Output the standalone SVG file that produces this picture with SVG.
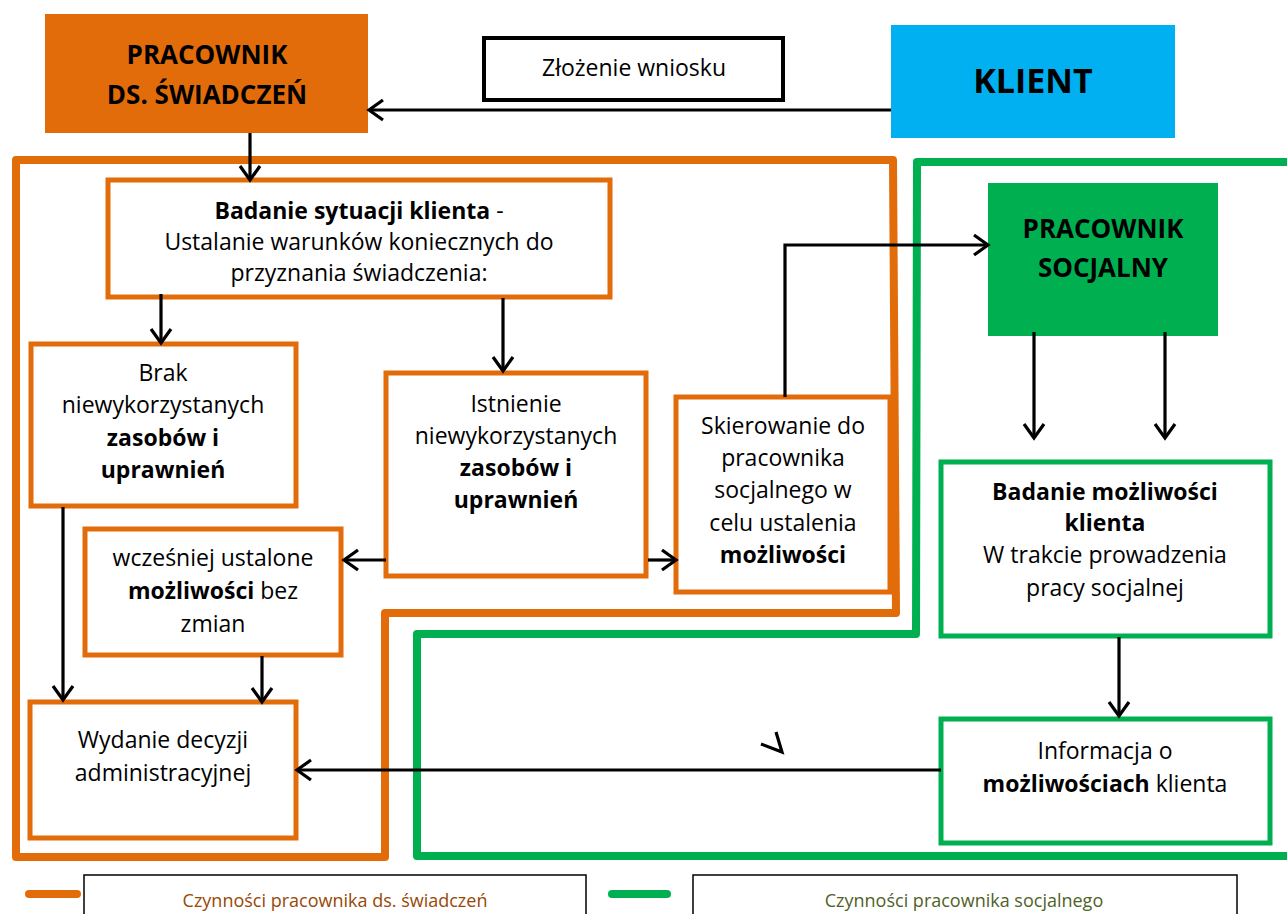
<svg xmlns="http://www.w3.org/2000/svg" width="1287" height="914" viewBox="0 0 1287 914">
<style>
.t{font-family:"Open Sans","Liberation Sans",sans-serif;font-size:23px;fill:#000;text-anchor:middle}
.b{font-weight:bold}
.h{font-size:26px}
.k{font-size:34px}
.z{font-size:23px}
.ob{fill:#fff;stroke:#E36C0A;stroke-width:5}
.gb{fill:#fff;stroke:#00B050;stroke-width:5}
.c{fill:none;stroke:#000;stroke-width:3.2}
.lg{font-family:"Open Sans","Liberation Sans",sans-serif;font-size:18px;text-anchor:middle}
</style>
<defs>
<marker id="a" markerWidth="20" markerHeight="24" refX="16" refY="12" orient="auto" markerUnits="userSpaceOnUse" viewBox="0 0 20 24" overflow="visible">
<path d="M2,2 L16,12 L2,22" fill="none" stroke="#000" stroke-width="3.2"/>
</marker>
</defs>
<rect width="1287" height="914" fill="#fff"/>
<g id="areas">
<path d="M16,857 L16,160 L893,160 L896,613 L385,613 L385,857 Z" fill="none" stroke="#E36C0A" stroke-width="8" stroke-linejoin="round"/>
<path d="M1290,162 L917,162 L916,634 L417,634 L417,856 L1290,856" fill="none" stroke="#00B050" stroke-width="8" stroke-linejoin="round"/>
</g>
<g id="pracownik-swiadczen">
<rect x="45" y="14" width="323" height="119" fill="#E36C0A"/>
<text class="t b h" x="207" y="64">PRACOWNIK</text>
<text class="t b h" x="207" y="104">DS. ŚWIADCZEŃ</text>
</g>
<g id="zlozenie">
<rect x="484" y="38" width="299" height="62" fill="#fff" stroke="#000" stroke-width="4"/>
<text class="t z" x="634" y="76">Złożenie wniosku</text>
</g>
<g id="klient">
<rect x="891" y="25" width="284" height="113" fill="#00B0F0"/>
<text class="t b k" x="1033" y="93">KLIENT</text>
</g>
<g id="badanie-sytuacji">
<rect class="ob" x="108" y="180" width="502" height="117"/>
<text class="t" x="359" y="219"><tspan class="b">Badanie sytuacji klienta</tspan> -</text>
<text class="t" x="359" y="250">Ustalanie warunków koniecznych do</text>
<text class="t" x="359" y="281">przyznania świadczenia:</text>
</g>
<g id="brak">
<rect class="ob" x="31" y="344" width="265" height="162"/>
<text class="t" x="163" y="381">Brak</text>
<text class="t" x="163" y="413">niewykorzystanych</text>
<text class="t b" x="163" y="446">zasobów i</text>
<text class="t b" x="163" y="478">uprawnień</text>
</g>
<g id="istnienie">
<rect class="ob" x="386" y="373" width="260" height="203"/>
<text class="t" x="516" y="412">Istnienie</text>
<text class="t" x="516" y="444">niewykorzystanych</text>
<text class="t b" x="516" y="476">zasobów i</text>
<text class="t b" x="516" y="508">uprawnień</text>
</g>
<g id="skierowanie">
<rect class="ob" x="676" y="397" width="214" height="195"/>
<text class="t" x="783" y="434">Skierowanie do</text>
<text class="t" x="783" y="466">pracownika</text>
<text class="t" x="783" y="498">socjalnego w</text>
<text class="t" x="783" y="531">celu ustalenia</text>
<text class="t b" x="783" y="563">możliwości</text>
</g>
<g id="wczesniej">
<rect class="ob" x="85" y="529" width="256" height="126"/>
<text class="t" x="213" y="566">wcześniej ustalone</text>
<text class="t" x="213" y="599"><tspan class="b">możliwości</tspan> bez</text>
<text class="t" x="213" y="632">zmian</text>
</g>
<g id="wydanie">
<rect class="ob" x="30" y="702" width="266" height="136"/>
<text class="t" x="163" y="748">Wydanie decyzji</text>
<text class="t" x="163" y="781">administracyjnej</text>
</g>
<g id="pracownik-socjalny">
<rect x="988" y="183" width="230" height="153" fill="#00B050"/>
<text class="t b h" x="1103" y="238">PRACOWNIK</text>
<text class="t b h" x="1103" y="277">SOCJALNY</text>
</g>
<g id="badanie-mozliwosci">
<rect class="gb" x="941" y="462" width="329" height="174"/>
<text class="t b" x="1105" y="500">Badanie możliwości</text>
<text class="t b" x="1105" y="531">klienta</text>
<text class="t" x="1105" y="563">W trakcie prowadzenia</text>
<text class="t" x="1105" y="596">pracy socjalnej</text>
</g>
<g id="informacja">
<rect class="gb" x="941" y="719" width="329" height="124"/>
<text class="t" x="1105" y="759">Informacja o</text>
<text class="t" x="1105" y="792"><tspan class="b">możliwościach</tspan> klienta</text>
</g>
<g id="connectors">
<line class="c" x1="891" y1="110" x2="369" y2="110" marker-end="url(#a)"/>
<line class="c" x1="250" y1="133" x2="250" y2="180" marker-end="url(#a)"/>
<line class="c" x1="161" y1="294" x2="161" y2="343" marker-end="url(#a)"/>
<line class="c" x1="503" y1="298" x2="503" y2="371" marker-end="url(#a)"/>
<line class="c" x1="386" y1="560" x2="344" y2="560" marker-end="url(#a)"/>
<line class="c" x1="648" y1="560" x2="676" y2="560" marker-end="url(#a)"/>
<polyline class="c" points="785,397 785,245 988,245" marker-end="url(#a)"/>
<line class="c" x1="63" y1="507" x2="63" y2="700" marker-end="url(#a)"/>
<line class="c" x1="262" y1="656" x2="262" y2="702" marker-end="url(#a)"/>
<line class="c" x1="941" y1="770" x2="297" y2="770" marker-end="url(#a)"/>
<line class="c" x1="1034" y1="332" x2="1034" y2="438" marker-end="url(#a)"/>
<line class="c" x1="1165" y1="332" x2="1165" y2="438" marker-end="url(#a)"/>
<line class="c" x1="1119" y1="637" x2="1119" y2="716" marker-end="url(#a)"/>
<polyline class="c" points="761,744 782,752 776,732"/>
</g>
<g id="legend">
<line x1="29" y1="894" x2="77" y2="894" stroke="#E36C0A" stroke-width="8" stroke-linecap="round"/>
<rect x="84" y="875" width="502" height="60" fill="#fff" stroke="#000" stroke-width="1.5"/>
<text class="lg" x="335" y="907" fill="#984806">Czynności pracownika ds. świadczeń</text>
<line x1="612" y1="894" x2="667" y2="894" stroke="#00B050" stroke-width="8" stroke-linecap="round"/>
<rect x="693" y="875" width="544" height="60" fill="#fff" stroke="#000" stroke-width="1.5"/>
<text class="lg" x="964" y="907" fill="#4F6228">Czynności pracownika socjalnego</text>
</g>
</svg>
